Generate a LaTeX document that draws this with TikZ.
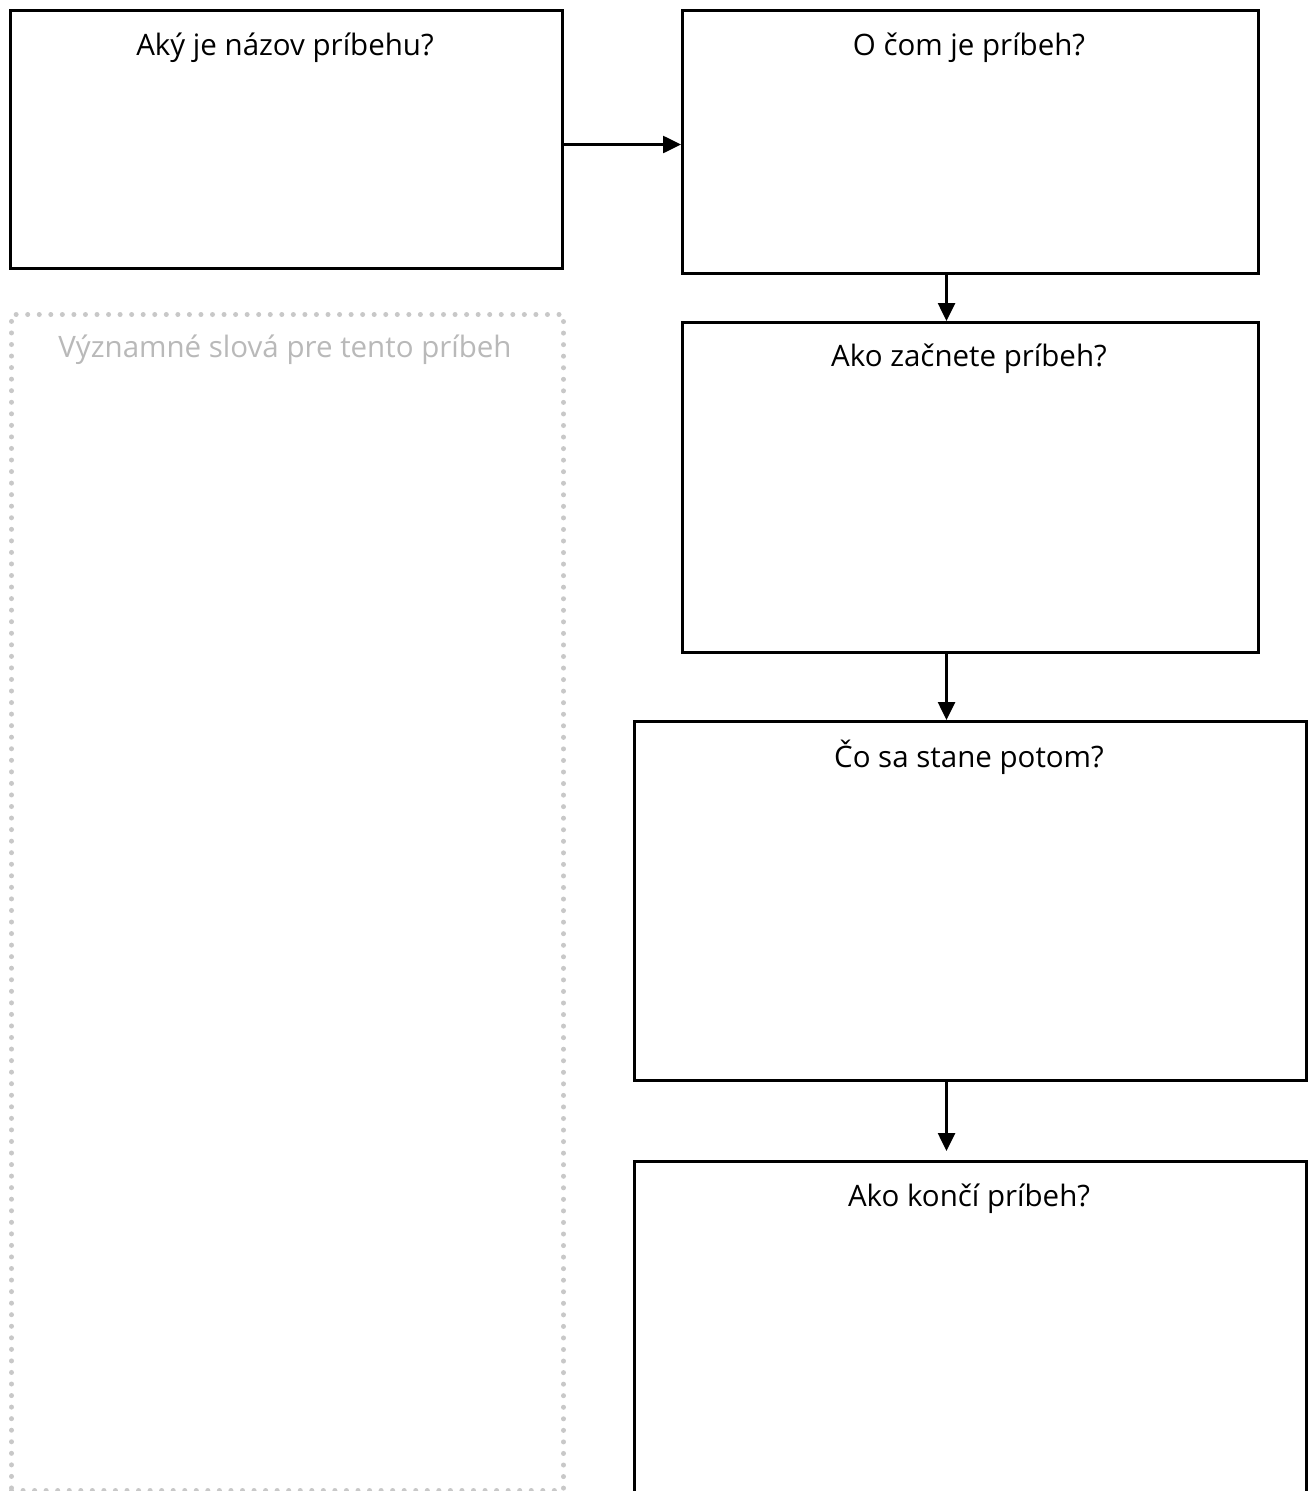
\documentclass[tikz,border=0pt]{standalone}
\usepackage{fontspec}
\setmainfont{Open Sans}
\usetikzlibrary{arrows.meta}
\definecolor{dotgray}{RGB}{200,200,200}
\definecolor{txtgray}{RGB}{185,185,185}
\tikzset{
  box/.style={draw=black, line width=3pt, rectangle, anchor=north west, inner sep=0pt},
  title/.style={font=\fontsize{29.5}{34}\selectfont, anchor=center, text=black},
  flow/.style={draw=black, line width=2.6pt, -{Triangle[length=18pt,width=17pt]}},
  dotbox/.style={draw=dotgray, line width=5pt, line cap=round, dash pattern=on 0pt off 11.55pt, rectangle, anchor=north west, inner sep=0pt}
}
\begin{document}
\begin{tikzpicture}[x=1pt,y=-1pt]
\useasboundingbox[fill=white] (0,0) rectangle (1311,1491);
\node[box, minimum width=552pt, minimum height=258pt] (b1) at (9,9) {};
\node[box, minimum width=576pt, minimum height=263pt] (b2) at (681,9) {};
\node[box, minimum width=576pt, minimum height=330pt] (b3) at (681,321) {};
\node[box, minimum width=672pt, minimum height=359pt] (b4) at (633,720) {};
\node[box, minimum width=672pt, minimum height=345pt] (b5) at (633,1160) {};
\node[dotbox, minimum width=552pt, minimum height=1176pt] (words) at (9,312) {};

\node[title] (t1) at (285,48) {Aký je názov príbehu?};
\node[title] (t2) at (969,48) {O čom je príbeh?};
\node[title] (t3) at (969,359) {Ako začnete príbeh?};
\node[title] (t4) at (969,757) {Čo sa stane potom?};
\node[title] (t5) at (969,1199) {Ako končí príbeh?};
\node[title, text=txtgray] (tw) at (285,350) {Významné slová pre tento príbeh};

\draw[flow] ([yshift=-5pt]b1.east) -- ([yshift=-5pt]b1.east -| b2.west);
\draw[flow] ([xshift=-24pt]b2.south) -- ([xshift=-24pt]b3.north);
\draw[flow] ([xshift=-24pt,yshift=3pt]b3.south) -- ([xshift=-24pt]b4.north);
\draw[flow] ([xshift=-24pt]b4.south) -- ([xshift=-24pt,yshift=9pt]b5.north);
\end{tikzpicture}
\end{document}
